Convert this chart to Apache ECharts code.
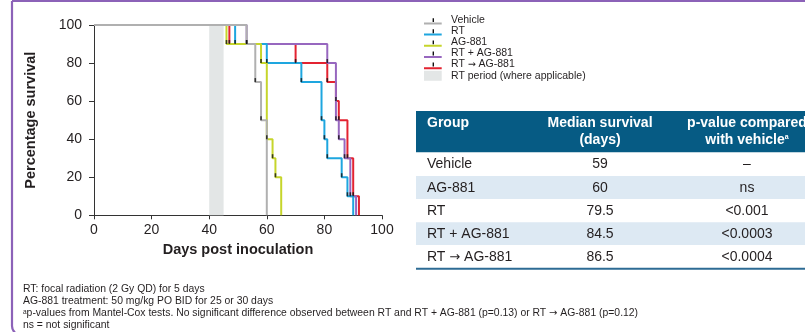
<!DOCTYPE html>
<html><head><meta charset="utf-8">
<script src="https://cdn.jsdelivr.net/npm/echarts@6/dist/echarts.min.js"></script>
<style>html,body{margin:0;padding:0;background:#fff;}#c{width:805px;height:332px;}</style>
</head><body><div id="c"></div>
<script>
// ---- data ----
const groupNames = ['Vehicle', 'RT', 'AG-881', 'RT + AG-881', 'RT \u2192 AG-881'];
const vehicleDays = [0, 53, 56, 58, 60];
const vehicleSurv = [100, 90, 70, 50, 0];
const rtDays = [0, 49, 60, 72, 79, 80, 81, 86, 88, 90];
const rtSurv = [100, 90, 80, 70, 50, 40, 30, 20, 10, 0];
const ag881Days = [0, 46, 58, 60, 62, 63, 65];
const ag881Surv = [100, 90, 80, 40, 30, 20, 0];
const rtPlusDays = [0, 53, 81, 84, 85, 87, 89, 91];
const rtPlusSurv = [100, 90, 80, 50, 40, 30, 10, 0];
const rtThenDays = [0, 47, 70, 81, 84, 85, 88, 90, 92];
const rtThenSurv = [100, 90, 80, 70, 60, 50, 30, 10, 0];
const rtPeriod = [40, 45];
const rtPeriodName = 'RT period (where applicable)';

const tableHeader = ['Group', ['Median survival', '(days)'], ['p-value compared', 'with vehicle']];
const tableGroups = ['Vehicle', 'AG-881', 'RT', 'RT + AG-881', 'RT \u2192 AG-881'];
const medianSurvival = ['59', '60', '79.5', '84.5', '86.5'];
const pValues = ['\u2013', 'ns', '<0.001', '<0.0003', '<0.0004'];

const footnotes = [
  'RT: focal radiation (2 Gy QD) for 5 days',
  'AG-881 treatment: 50 mg/kg PO BID for 25 or 30 days',
  '{sup|a}p-values from Mantel-Cox tests. No significant difference observed between RT and RT + AG-881 (p=0.13) or RT \u2192 AG-881 (p=0.12)',
  'ns = not significant'
];

// ---- styles ----
const FONT = "'Liberation Sans', Arial, sans-serif";
const TXT = '#231f20';
const colors = {
  'Vehicle': '#b0b0b0',
  'RT': '#1ea6df',
  'AG-881': '#c6d52b',
  'RT + AG-881': '#9767bf',
  'RT \u2192 AG-881': '#e32331'
};
const arrowRich = s => s.replace('\u2192', '{ar|\u2192}');
const NOTE_SIZE = 10.4;

function km(name, days, surv, z) {
  return {
    type: 'line', name: name, step: 'end', z: z,
    data: days.map((d, i) => [d, surv[i]]),
    symbol: 'none', showSymbol: false, color: colors[name],
    lineStyle: { color: colors[name], width: 2 },
    itemStyle: { color: colors[name] },
    silent: true, animation: false
  };
}
const groups = [
  ['Vehicle', vehicleDays, vehicleSurv],
  ['RT', rtDays, rtSurv],
  ['AG-881', ag881Days, ag881Surv],
  ['RT + AG-881', rtPlusDays, rtPlusSurv],
  ['RT \u2192 AG-881', rtThenDays, rtThenSurv]
];
const tickPts = [];
groups.forEach(g => g[1].forEach((d, i) => { if (d > 0 && g[2][i] > 0) tickPts.push([d, g[2][i]]); }));

const lineIcon = 'path://M0,0L0,0Z M22,10L22,10Z M0,7.7L17.7,7.7L17.7,9.7L0,9.7Z';
const rectIcon = 'path://M0,0L0,0Z M22,10L22,10Z M0,0L17.7,0L17.7,10L0,10Z';

const LEG_TOP = 14.2, LEG_PITCH = 11.1;

// ---- graphics: frame, table, notes, legend ticks ----
const graphics = [];
graphics.push({ type: 'rect', z: 50, silent: true,
  shape: { x: 12, y: 1, width: 900, height: 334, r: [0, 0, 0, 9] },
  style: { fill: 'none', stroke: '#8c62b8', lineWidth: 2.2 } });

groupNames.forEach((n, i) => {
  graphics.push({ type: 'rect', z: 60, silent: true,
    shape: { x: 432.6, y: LEG_TOP + i * LEG_PITCH + 4, width: 1.4, height: 3.9 },
    style: { fill: '#111' } });
});

const TX = 416, TW = 389;
graphics.push({ type: 'rect', silent: true, shape: { x: TX, y: 111, width: TW, height: 41.5 }, style: { fill: '#065b84' } });
const rowEdges = [152.5, 176, 199, 222.3, 245, 267.7];
for (let i = 0; i < 5; i++) {
  graphics.push({ type: 'rect', silent: true,
    shape: { x: TX, y: rowEdges[i], width: TW, height: rowEdges[i + 1] - rowEdges[i] },
    style: { fill: i % 2 === 1 ? '#dde9f3' : '#ffffff' } });
}
graphics.push({ type: 'rect', silent: true, shape: { x: TX, y: 267.7, width: TW, height: 2 }, style: { fill: '#2d6b94' } });

const colX = [427, 600, 747];
function txt(x, y, s, align, bold, color, size) {
  const f = (bold ? 'bold ' : '') + (size || 14) + 'px ' + FONT;
  return { type: 'text', x: x, y: y, silent: true, z: 5,
    style: { text: s, x: 0, y: 0, align: align, verticalAlign: 'middle',
      font: f, fill: color,
      rich: {
        ar: { font: (bold ? 'bold ' : '') + '13px "DejaVu Sans"', fill: color },
        sup: { font: 'bold 7px ' + FONT, fill: color, verticalAlign: 'top' }
      } } };
}
graphics.push(txt(colX[0], 123.3, tableHeader[0], 'left', true, '#fff'));
graphics.push(txt(colX[1], 123.3, tableHeader[1][0], 'center', true, '#fff'));
graphics.push(txt(colX[1], 140.6, tableHeader[1][1], 'center', true, '#fff'));
graphics.push(txt(colX[2], 123.3, tableHeader[2][0], 'center', true, '#fff'));
graphics.push(txt(colX[2], 140.6, tableHeader[2][1] + '{sup|a}', 'center', true, '#fff'));
const rowY = [164.3, 187.7, 211, 234, 257.3];
tableGroups.forEach((g, i) => {
  graphics.push(txt(colX[0], rowY[i], arrowRich(g), 'left', false, TXT));
  graphics.push(txt(colX[1], rowY[i], medianSurvival[i], 'center', false, TXT));
  graphics.push(txt(colX[2], rowY[i], pValues[i], 'center', false, TXT));
});

const noteY = [289.6, 301.6, 313.6, 325.6];
footnotes.forEach((s, i) => {
  graphics.push({ type: 'text', x: 23, y: noteY[i], silent: true,
    style: { text: arrowRich(s), x: 0, y: 0, align: 'left', verticalAlign: 'middle',
      font: NOTE_SIZE + 'px ' + FONT, fill: TXT,
      rich: {
        ar: { font: '10px "DejaVu Sans"', fill: TXT },
        sup: { font: '6.5px ' + FONT, fill: TXT, verticalAlign: 'top' }
      } } });
});

// ---- chart ----
const chart = echarts.init(document.getElementById('c'), null, { renderer: 'canvas' });
const axisCommon = {
  type: 'value', min: 0, max: 100, interval: 20,
  splitLine: { show: false },
  axisLine: { show: true, lineStyle: { color: '#333', width: 1 } },
  axisLabel: { color: TXT, fontSize: 14, fontFamily: FONT },
  nameLocation: 'middle',
  nameTextStyle: { color: TXT, fontSize: 14.5, fontWeight: 'bold', fontFamily: FONT }
};
chart.setOption({
  animation: false,
  backgroundColor: '#fff',
  grid: { left: 94, top: 25, width: 288, height: 190.3, containLabel: false, outerBoundsMode: 'none' },
  xAxis: Object.assign({}, axisCommon, {
    name: 'Days post inoculation', nameGap: 25,
    axisTick: { show: true, length: 4, lineStyle: { color: '#333' } },
    axisLabel: Object.assign({}, axisCommon.axisLabel, { margin: 8 })
  }),
  yAxis: Object.assign({}, axisCommon, {
    name: 'Percentage survival', nameGap: 56,
    axisTick: { show: true, length: 5, lineStyle: { color: '#333' } },
    axisLabel: Object.assign({}, axisCommon.axisLabel, { margin: 12 })
  }),
  legend: {
    orient: 'vertical', left: 424, top: LEG_TOP, padding: 0,
    itemWidth: 22, itemHeight: 10, itemGap: 0.2,
    selectedMode: false,
    itemStyle: { borderWidth: 0 },
    formatter: name => arrowRich(name),
    textStyle: { fontSize: 10.5, color: TXT, fontFamily: FONT, lineHeight: 10,
      rich: { ar: { fontSize: 9.5, fontFamily: 'DejaVu Sans', color: TXT, lineHeight: 10 } } },
    data: groupNames.map(n => ({ name: n, icon: lineIcon, itemStyle: { color: colors[n], borderWidth: 0 } }))
      .concat([{ name: rtPeriodName, icon: rectIcon, itemStyle: { color: '#e3e6e6', borderWidth: 0 } }])
  },
  graphic: { elements: graphics },
  series: [
    { type: 'line', name: rtPeriodName, data: [], z: 1, color: '#e3e6e6', silent: true,
      markArea: { silent: true, itemStyle: { color: '#e3e6e6', opacity: 1 },
        data: [[{ xAxis: rtPeriod[0] }, { xAxis: rtPeriod[1] }]] } },
    km('RT \u2192 AG-881', rtThenDays, rtThenSurv, 2),
    km('RT + AG-881', rtPlusDays, rtPlusSurv, 2),
    km('RT', rtDays, rtSurv, 2),
    km('AG-881', ag881Days, ag881Surv, 2),
    km('Vehicle', vehicleDays, vehicleSurv, 2),
    { type: 'scatter', name: 'ticks', data: tickPts, z: 5, silent: true,
      symbol: 'rect', symbolSize: [1.6, 4], symbolOffset: [0, -2],
      itemStyle: { color: '#111' } }
  ]
});
</script></body></html>
